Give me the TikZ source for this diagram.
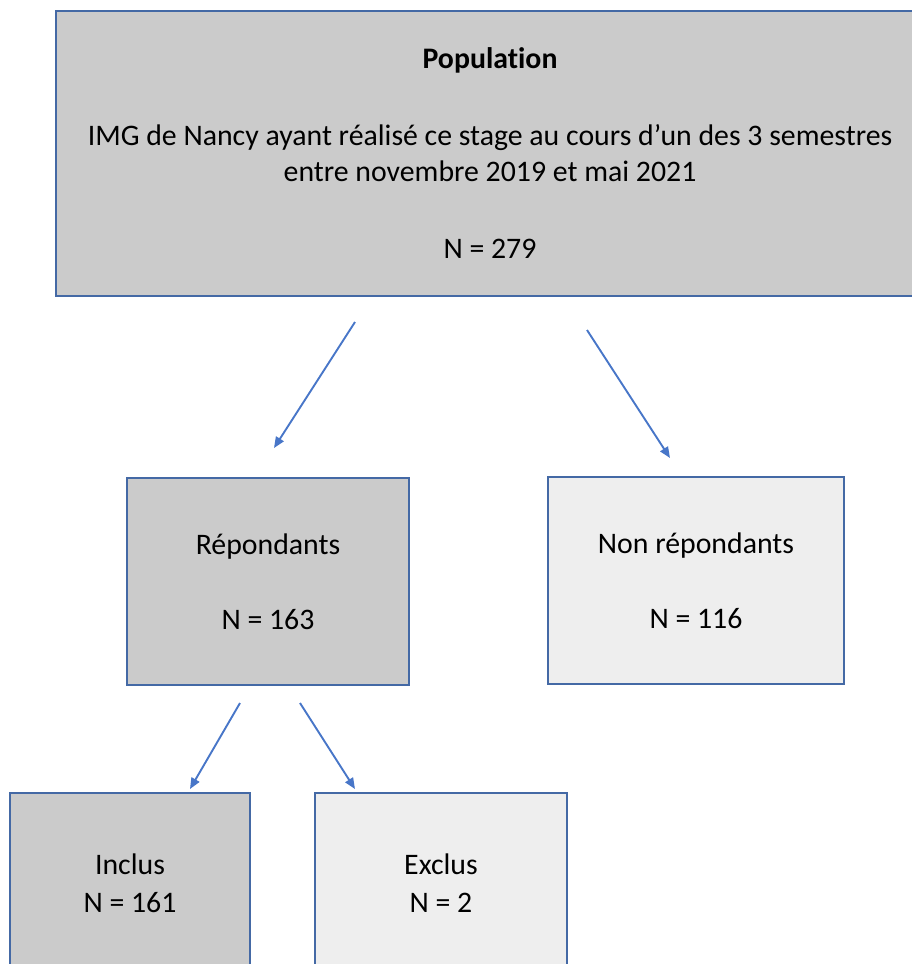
\documentclass[tikz,border=0pt]{standalone}
\usepackage{fontspec}
\setmainfont{Carlito}[Ligatures=NoCommon]
\usetikzlibrary{arrows.meta}

\definecolor{boxline}{RGB}{68,105,165}
\definecolor{arrowcol}{RGB}{72,118,200}
\definecolor{darkfill}{RGB}{203,203,203}
\definecolor{lightfill}{RGB}{238,238,238}

\tikzset{
  box/.style={draw=boxline, line width=2pt, inner sep=0pt, align=center,
    font=\fontsize{29.8}{36}\selectfont},
  arr/.style={draw=arrowcol, line width=1.9pt, -{Triangle[length=11pt,width=9pt]}}
}

\begin{document}
\begin{tikzpicture}[x=1pt, y=-1pt]
      \clip (0,0) rectangle (912,964);
      \useasboundingbox (0,0) rectangle (912,964);
      % boxes
      \node[box, fill=darkfill, minimum width=868pt, minimum height=285pt] (pop) at (490,153.5)
        {\textbf{Population}\\[41pt]IMG de Nancy ayant réalisé ce stage au cours d’un des 3 semestres\\entre novembre 2019 et mai 2021\\[41pt]N = 279};
      \node[box, fill=darkfill, minimum width=282pt, minimum height=207pt] (rep) at (268,581.5)
        {Répondants\\[39pt]N = 163};
      \node[box, fill=lightfill, minimum width=296pt, minimum height=207pt] (nonrep) at (696,580.5)
        {Non répondants\\[39pt]N = 116};
      \node[box, fill=darkfill, minimum width=240pt, minimum height=180pt] (inc) at (130,883)
        {Inclus\\[2pt]N = 161};
      \node[box, fill=lightfill, minimum width=252pt, minimum height=180pt] (exc) at (441,883)
        {Exclus\\[2pt]N = 2};
      % arrows
      \draw[arr] ([xshift=-135pt,yshift=-25pt]pop.south) -- ([xshift=6pt,yshift=29pt]rep.north);
      \draw[arr] ([xshift=97pt,yshift=-33pt]pop.south) -- ([xshift=-26pt,yshift=18pt]nonrep.north);
      \draw[arr] ([xshift=-28pt,yshift=-17pt]rep.south) -- ([xshift=60pt,yshift=3pt]inc.north);
      \draw[arr] ([xshift=32pt,yshift=-17pt]rep.south) -- ([xshift=-86pt,yshift=3pt]exc.north);
    \end{tikzpicture}
\end{document}
